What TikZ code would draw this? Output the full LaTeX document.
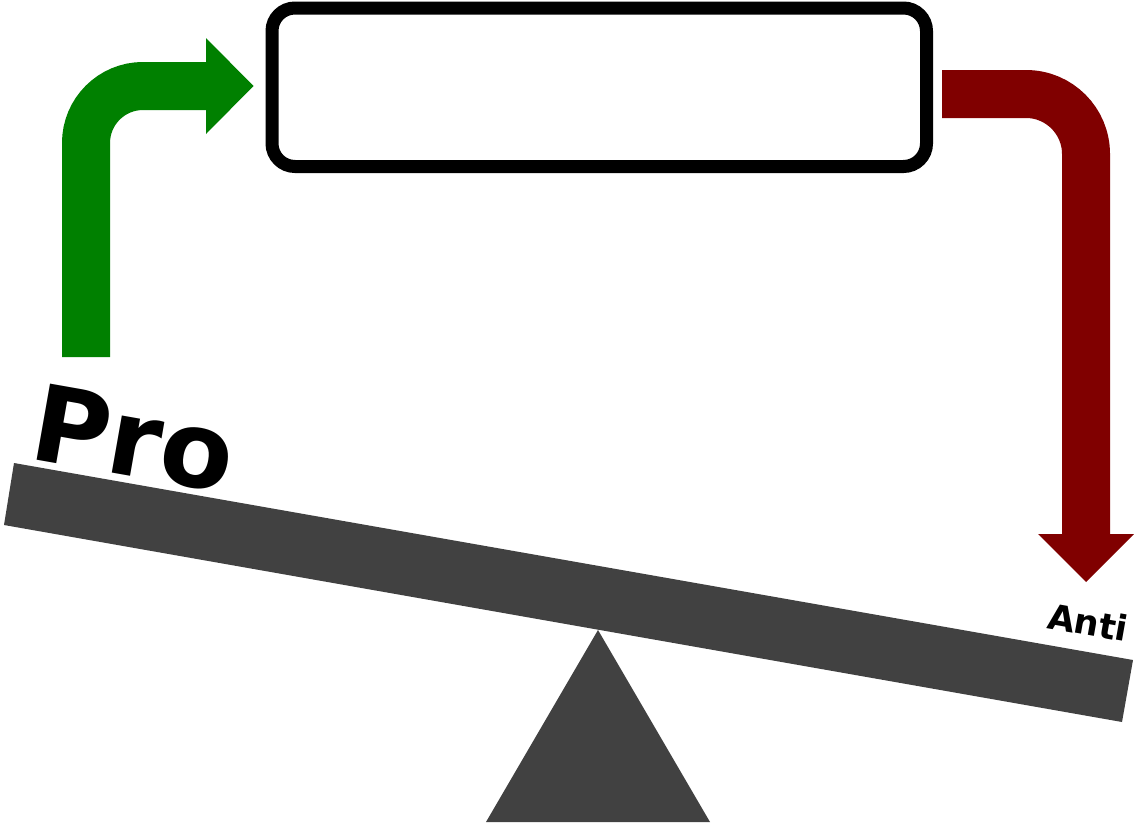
\documentclass[tikz,border=0pt]{standalone}
\usepackage{fontspec}
\setmainfont{DejaVu Sans}
\definecolor{gogreen}{RGB}{0,128,0}
\definecolor{stopred}{RGB}{128,0,0}
\definecolor{beamgray}{RGB}{65,65,65}
\begin{document}
\begin{tikzpicture}[x=1pt,y=-1pt,
  band/.style={line width=48pt},
  head/.style={draw=none},
  label/.style={inner sep=0pt,font=\bfseries,rotate=-10,anchor=base west}]
\useasboundingbox (0,0) rectangle (1134,822);

% empty rounded box at the top
\node[draw,line width=13pt,rounded corners=23pt,minimum width=654.5pt,
      minimum height=158.5pt,inner sep=0pt] (box) at (599.25,87.25) {};

% green arrow feeding into the box
\coordinate (gstart) at (86,357);
\coordinate (gbend) at (86,86);
\coordinate (gend) at (206,86);
\draw[band,gogreen,rounded corners=57pt] (gstart) -- (gbend) -- (gend);
\fill[gogreen] (206,38) -- (253.5,86) -- (206,134) -- cycle;

% red arrow leaving the box
\coordinate (rstart) at (942,94);
\coordinate (rbend) at (1086,94);
\coordinate (rend) at (1086,534);
\draw[band,stopred,rounded corners=60pt] (rstart) -- (rbend) -- (rend);
\fill[stopred] (1038,534) -- (1134,534) -- (1086,582) -- cycle;

% seesaw: pivot and tilted beam
\fill[beamgray] (598,630) -- (710,822) -- (486,822) -- cycle;
\fill[beamgray] (14,463) -- (1133,660) -- (1122,722) -- (4,525) -- cycle;

% labels on the beam
\node[label,font=\bfseries\fontsize{106}{120}\selectfont] (pro) at (27,458) {Pro};
\node[label,font=\bfseries\fontsize{35}{40}\selectfont] (anti) at (1046,628) {Anti};
\end{tikzpicture}
\end{document}
